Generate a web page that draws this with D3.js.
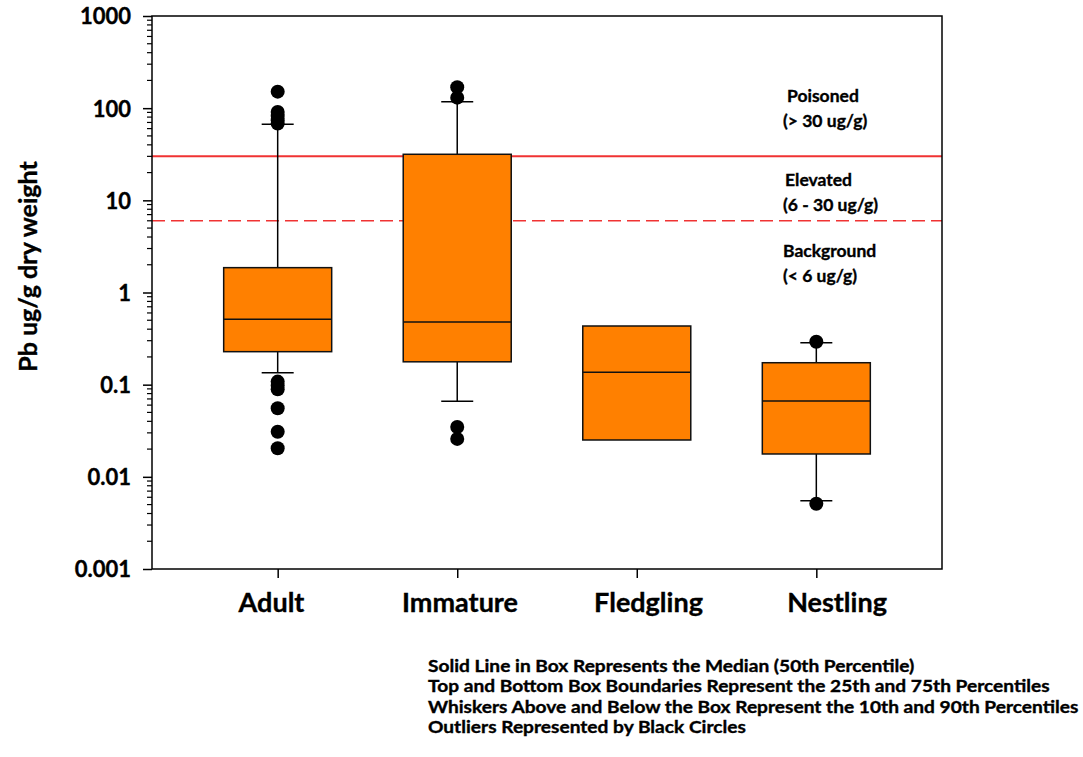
<!DOCTYPE html>
<html>
<head>
<meta charset="utf-8">
<script src="https://cdn.jsdelivr.net/npm/d3@7"></script>
<style>
  html, body { margin: 0; padding: 0; background: #fff; }
  svg { display: block; }
  text { font-family: Lato, "Open Sans", sans-serif; font-weight: bold; fill: #000; stroke: #000; stroke-width: 0.35px; }
</style>
</head>
<body>
<script>
// Lead concentration by age class (box = 25th–75th, whiskers = 10th–90th)
const categories = ["Adult", "Immature", "Fledgling", "Nestling"];
const p25 = [0.228, 0.177, 0.0251, 0.0177];
const p50 = [0.512, 0.479, 0.136, 0.0665];
const p75 = [1.86, 31.6, 0.433, 0.173];
const p10 = [0.135, 0.066, null, 0.0055];
const p90 = [66.8, 117.5, null, 0.285];
const outliers = [
  [151, 91, 82, 74, 68, 0.108, 0.098, 0.089, 0.0554, 0.0309, 0.0204],
  [169, 130, 0.0347, 0.0258],
  [],
  [0.292, 0.0051]
];
const yTickValues = [0.001, 0.01, 0.1, 1, 10, 100, 1000];
const yTickLabels = ["0.001", "0.01", "0.1", "1", "10", "100", "1000"];
const thresholds = [30, 6];
const zoneLabels = [
  ["Poisoned", "(> 30 ug/g)"],
  ["Elevated", "(6 - 30 ug/g)"],
  ["Background", "(< 6 ug/g)"]
];
const notes = [
  "Solid Line in Box Represents the Median (50th Percentile)",
  "Top and Bottom Box Boundaries Represent the 25th and 75th Percentiles",
  "Whiskers Above and Below the Box Represent the 10th and 90th Percentiles",
  "Outliers Represented by Black Circles"
];

const W = 1083, H = 757;
const plotL = 152, plotR = 942, plotT = 16, plotB = 569;

const svg = d3.select("body").append("svg").attr("width", W).attr("height", H);

const x = d3.scalePoint().domain(categories).range([plotL, plotR]).padding(0.7);
// category captions sit on their own, slightly wider, spacing
const xLabel = d3.scalePoint().domain(categories).range([271, 836.5]);
const y = d3.scaleLog().domain([0.001, 1000]).range([plotB, plotT]);

// threshold lines
svg.append("line")
  .attr("x1", plotL).attr("x2", plotR)
  .attr("y1", y(thresholds[0])).attr("y2", y(thresholds[0]))
  .attr("stroke", "#f03333").attr("stroke-width", 2);
svg.append("line")
  .attr("x1", plotL).attr("x2", plotR)
  .attr("y1", y(thresholds[1])).attr("y2", y(thresholds[1]))
  .attr("stroke", "#f03333").attr("stroke-width", 1.6)
  .attr("stroke-dasharray", "13,6");

// boxes
const boxHalf = 54, capHalf = 16;
const g = svg.append("g");
categories.forEach((c, i) => {
  const cx = x(c);
  if (p90[i] != null) {
    g.append("line").attr("x1", cx).attr("x2", cx)
      .attr("y1", y(p75[i])).attr("y2", y(p90[i]))
      .attr("stroke", "#000").attr("stroke-width", 1.5);
    g.append("line").attr("x1", cx - capHalf).attr("x2", cx + capHalf)
      .attr("y1", y(p90[i])).attr("y2", y(p90[i]))
      .attr("stroke", "#000").attr("stroke-width", 1.5);
  }
  if (p10[i] != null) {
    g.append("line").attr("x1", cx).attr("x2", cx)
      .attr("y1", y(p25[i])).attr("y2", y(p10[i]))
      .attr("stroke", "#000").attr("stroke-width", 1.5);
    g.append("line").attr("x1", cx - capHalf).attr("x2", cx + capHalf)
      .attr("y1", y(p10[i])).attr("y2", y(p10[i]))
      .attr("stroke", "#000").attr("stroke-width", 1.5);
  }
  g.append("rect")
    .attr("x", cx - boxHalf).attr("width", boxHalf * 2)
    .attr("y", y(p75[i])).attr("height", y(p25[i]) - y(p75[i]))
    .attr("fill", "#ff8000").attr("stroke", "#111").attr("stroke-width", 1.5);
  g.append("line").attr("x1", cx - boxHalf).attr("x2", cx + boxHalf)
    .attr("y1", y(p50[i])).attr("y2", y(p50[i]))
    .attr("stroke", "#111").attr("stroke-width", 1.5);
  g.selectAll(null).data(outliers[i]).enter().append("circle")
    .attr("cx", cx).attr("cy", d => y(d)).attr("r", 7).attr("fill", "#000");
});

// frame
svg.append("rect")
  .attr("x", plotL).attr("y", plotT).attr("width", plotR - plotL).attr("height", plotB - plotT)
  .attr("fill", "none").attr("stroke", "#000").attr("stroke-width", 1.5);

// y axis with major and minor ticks
const yAxis = svg.append("g").attr("transform", `translate(${plotL},0)`)
  .call(d3.axisLeft(y).tickValues(yTickValues)
    .tickFormat((d, i) => yTickLabels[i]).tickSize(9).tickPadding(12));
yAxis.select(".domain").remove();
yAxis.selectAll(".tick line").attr("stroke", "#000").attr("stroke-width", 1.5);
yAxis.selectAll(".tick text").style("font-size", "22px").attr("dy", "0.36em");

const minorVals = [];
for (let e = -3; e < 3; e++) for (let m = 2; m <= 9; m++) minorVals.push(m * Math.pow(10, e));
svg.append("g").selectAll("line").data(minorVals).enter().append("line")
  .attr("x1", plotL - 5).attr("x2", plotL)
  .attr("y1", d => y(d)).attr("y2", d => y(d))
  .attr("stroke", "#000").attr("stroke-width", 1.2);

// x axis
const xAxis = svg.append("g").attr("transform", `translate(0,${plotB})`)
  .call(d3.axisBottom(x).tickSize(9).tickPadding(15));
xAxis.select(".domain").remove();
xAxis.selectAll(".tick line").attr("stroke", "#000").attr("stroke-width", 1.5);
xAxis.selectAll(".tick text").style("font-size", "27px")
  .attr("dx", d => xLabel(d) - x(d));

// y axis title
svg.append("text")
  .attr("transform", `translate(37,${(plotT + plotB) / 2 - 26}) rotate(-90)`)
  .attr("text-anchor", "middle")
  .style("font-size", "25px")
  .text("Pb ug/g dry weight");

// zone labels
const zoneX = [[787, 783], [785, 783], [783, 783]];
const zoneY = [102, 186, 257];
zoneLabels.forEach((lines, i) => {
  const t = svg.append("text").attr("y", zoneY[i]).style("font-size", "17.5px");
  lines.forEach((s, j) => t.append("tspan").attr("x", zoneX[i][j]).attr("dy", j ? 25 : 0).text(s));
});

// notes block, condensed type stretched horizontally
const nt = svg.append("g").attr("transform", "translate(428,672) scale(1.16,1)")
  .append("text").style("font-size", "16.5px");
notes.forEach((s, j) => nt.append("tspan").attr("x", 0).attr("dy", j ? 20.3 : 0).text(s));
</script>
</body>
</html>
